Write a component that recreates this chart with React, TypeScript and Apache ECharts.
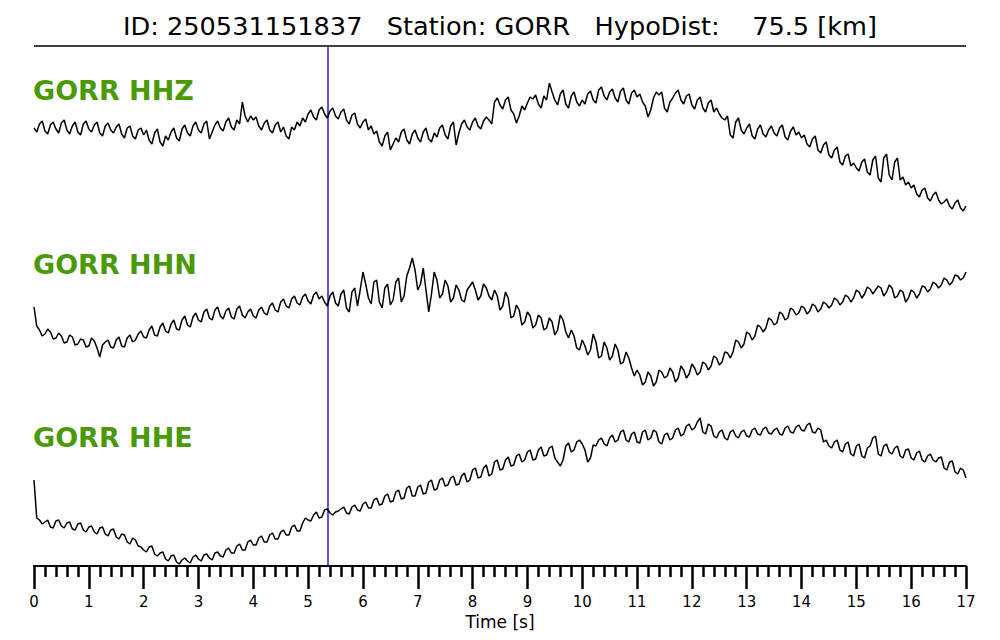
import React, { useEffect, useRef } from "react";
import * as echarts from "echarts";

// Sampling step of the digitised traces (seconds): main samples every 0.1 s,
// mid samples read at the half-step between them.
const SAMPLE_STEP = 0.05;

const TITLE = "ID: 250531151837   Station: GORR   HypoDist:    75.5 [km]";
const TRACE_NAMES = ["GORR HHZ", "GORR HHN", "GORR HHE"];
const PICK_TIME = 5.35;
const X_TICKS = [0, 1, 2, 3, 4, 5, 6, 7, 8, 9, 10, 11, 12, 13, 14, 15, 16, 17];

// Amplitudes (arbitrary counts, relative to each trace's baseline) at t = 0, 0.1, 0.2 ...
const HHZ = [
  2, 6, -1, 5, 1, 7, 0, 4, -2, 6, 1, 5, -3, 4, 0, 3, -4, 2, -6, 0,
  -5, -10, -3, -12, -6, -2, -8, 1, -3, 4, 0, 6, -9, 5, 2, 8, 3, 10, 28, 8,
  10, 4, 7, 0, 5, -2, -6, 3, 8, 12, 16, 13, 20, 16, 19, 14, 18, 10, 15, 6,
  8, 0, -4, -12, -6, -20, -8, -2, -10, -4, -8, -2, -9, -3, 2, -5, 4, -15, 6, 3,
  8, 4, 9, 10, 28, 25, 30, 20, 7, 24, 27, 31, 26, 34, 47, 30, 36, 26, 34, 28,
  30, 36, 30, 40, 34, 38, 32, 39, 30, 37, 33, 28, 13, 32, 35, 22, 28, 37, 30, 34,
  25, 30, 22, 27, 18, 16, 10, -5, 8, 0, 2, -6, 1, -4, 0, -3, 2, -7, -1, -5,
  -8, -14, -9, -20, -15, -25, -20, -32, -26, -36, -38, -32, -42, -30, -48, -28, -45, -32, -50, -55,
  -58, -64, -60, -68, -65, -70, -72, -76, -73, -78, -76,
];
// Amplitudes at t = 0.05, 0.15, 0.25 ...
const HHZ_MID = [
  -2, 9, -4, 8, -3, 10, -4, 8, -5, 9, -2, 8, -6, 7, -3, 6, -8, 4, -9, 2,
  0, -14, 1, -16, -10, 2, -11, 5, -6, 8, -3, 9, -2, 9, -1, 12, 0, 6, 14, 14,
  13, 0, 10, -3, 8, 3, -9, 0, 4, 8, 20, 10, 23, 12, 22, 11, 21, 6, 17, 2,
  11, 4, -1, -16, -2, -14, -12, 1, -14, 0, -12, 2, -12, -7, 5, -9, 8, -3, 10, 0,
  12, 1, 13, 6, 32, 21, 33, 16, 14, 20, 33, 35, 22, 30, 38, 25, 40, 22, 38, 24,
  26, 39, 27, 43, 30, 41, 28, 42, 26, 40, 36, 24, 20, 38, 38, 18, 32, 40, 26, 36,
  21, 33, 18, 30, 22, 12, 14, -8, 12, -4, 6, -9, 5, -7, 4, -6, 5, -10, 3, -2,
  -5, -17, -6, -23, -12, -28, -17, -35, -24, -33, -41, -29, -45, -26, -52, -24, -50, -28, -47, -52,
  -55, -67, -58, -71, -62, -74, -69, -79, -70, -81,
];

const HHN = [
  13, -10, -14, -12, -18, -16, -22, -17, -24, -20, -26, -21, -37, -22, -27, -20, -26, -18, -22, -14,
  -17, -10, -15, -7, -11, -4, -9, 0, -5, 3, 0, 8, 2, 10, 4, 9, 3, 11, 5, 8,
  4, 10, 7, 14, 10, 18, 14, 21, 17, 23, 19, 25, 21, 18, 24, 17, 26, 12, 28, 14,
  48, 22, 38, 18, 32, 15, 38, 18, 44, 62, 30, 52, 8, 48, 22, 40, 18, 35, 20, 30,
  38, 20, 36, 24, 30, 10, 28, 2, 15, -5, 8, -8, 5, -10, 2, -15, 5, -12, -10, -28,
  -20, -35, -14, -38, -22, -40, -24, -44, -32, -48, -50, -65, -52, -66, -50, -58, -48, -62, -46, -58,
  -44, -55, -42, -50, -36, -45, -32, -38, -20, -28, -12, -20, -5, -12, 2, -5, 8, 0, 12, 5,
  14, 6, 16, 8, 18, 12, 22, 15, 25, 18, 30, 22, 33, 26, 34, 24, 35, 22, 30, 18,
  30, 22, 34, 28, 38, 32, 42, 35, 45, 40, 48,
];
const HHN_MID = [
  -6, -16, -9, -19, -13, -23, -15, -25, -19, -27, -18, -28, -25, -20, -28, -17, -27, -15, -20, -11,
  -18, -6, -16, -3, -13, 0, -10, 4, -7, 7, -2, 11, 0, 13, 1, 12, 1, 14, 2, 11,
  2, 13, 5, 17, 8, 21, 12, 24, 15, 26, 16, 28, 24, 14, 28, 14, 30, 8, 32, 30,
  36, 16, 40, 12, 36, 20, 42, 24, 52, 50, 36, 30, 26, 40, 26, 34, 22, 30, 18, 34,
  30, 24, 32, 20, 24, 14, 22, 4, 10, -2, 4, -5, 2, -8, -2, -10, 0, -18, -16, -30,
  -26, -30, -22, -36, -28, -36, -30, -42, -38, -56, -55, -62, -56, -62, -52, -56, -52, -58, -50, -54,
  -48, -52, -44, -46, -38, -42, -33, -32, -22, -24, -14, -16, -7, -8, 0, -3, 6, 2, 10, 7,
  12, 9, 14, 11, 16, 15, 20, 18, 23, 22, 28, 26, 31, 30, 32, 28, 32, 24, 28, 22,
  28, 26, 33, 31, 36, 35, 40, 38, 44, 42,
];

const HHE = [
  10, -30, -32, -37, -31, -36, -33, -39, -34, -40, -37, -42, -38, -44, -40, -47, -44, -52, -48, -56,
  -60, -57, -64, -63, -69, -66, -72, -70, -71, -67, -69, -65, -68, -63, -66, -60, -63, -56, -60, -52,
  -55, -48, -52, -45, -49, -42, -45, -37, -41, -33, -30, -25, -28, -20, -23, -22, -19, -23, -17, -20,
  -14, -18, -10, -15, -6, -12, -2, -9, 2, -6, 3, -4, 8, 0, 10, 4, 12, 5, 14, 8,
  20, 12, 22, 14, 28, 20, 30, 24, 34, 28, 38, 30, 40, 34, 42, 32, 24, 44, 38, 48,
  46, 28, 45, 50, 46, 52, 48, 58, 50, 56, 48, 58, 50, 60, 48, 55, 50, 60, 54, 64,
  60, 68, 58, 66, 54, 58, 52, 58, 54, 58, 54, 60, 56, 61, 57, 60, 56, 62, 58, 63,
  60, 65, 58, 62, 48, 44, 48, 40, 46, 36, 44, 34, 42, 52, 36, 44, 38, 42, 34, 40,
  32, 37, 30, 34, 30, 32, 22, 28, 18, 22, 12,
];
const HHE_MID = [
  -28, -34, -30, -38, -30, -38, -32, -40, -33, -42, -36, -44, -37, -46, -39, -49, -45, -54, -50, -57,
  -62, -56, -66, -62, -71, -65, -74, -68, -73, -65, -71, -64, -70, -62, -67, -58, -63, -54, -60, -50,
  -55, -46, -52, -43, -49, -40, -45, -35, -41, -28, -31, -22, -27, -19, -25, -21, -17, -24, -15, -21,
  -12, -18, -8, -14, -4, -11, 0, -8, 4, -6, 5, -3, 10, 1, 12, 5, 14, 6, 17, 10,
  22, 13, 25, 16, 30, 21, 33, 25, 36, 30, 40, 31, 43, 35, 44, 28, 30, 47, 40, 50,
  40, 32, 44, 52, 44, 55, 50, 60, 48, 58, 47, 60, 52, 58, 46, 57, 52, 62, 56, 66,
  62, 72, 56, 64, 52, 60, 50, 60, 52, 60, 53, 62, 55, 63, 56, 62, 55, 64, 57, 65,
  59, 67, 57, 60, 50, 42, 50, 38, 48, 34, 46, 32, 44, 54, 34, 46, 36, 44, 32, 41,
  30, 39, 28, 36, 28, 33, 20, 29, 16, 20,
];

const TRACES = [
  [HHZ, HHZ_MID],
  [HHN, HHN_MID],
  [HHE, HHE_MID],
];
// Vertical offsets of each trace on the shared stacked axis
const TRACE_OFFSETS = [436, 246, 76];
const Y_RANGE = [0, 519];

const FONT = "DejaVu Sans";

function interleave(main: number[], mid: number[]): number[] {
  const out: number[] = [];
  main.forEach((v, i) => {
    out.push(v);
    if (i < mid.length) out.push(mid[i]);
  });
  return out;
}

export default function App() {
  const ref = useRef<HTMLDivElement>(null);

  useEffect(() => {
    if (!ref.current) return;
    const chart = echarts.init(ref.current, null, { renderer: "svg" });

    const series: any[] = TRACES.map(([main, mid], k) => ({
      type: "line",
      name: TRACE_NAMES[k],
      data: interleave(main, mid).map((v, i) => [Math.round(i * SAMPLE_STEP * 100) / 100, v + TRACE_OFFSETS[k]]),
      showSymbol: false,
      symbol: "none",
      lineStyle: { color: "#000", width: 1.5 },
      itemStyle: { color: "#000" },
      silent: true,
      z: 3,
      markLine:
        k === 0
          ? {
              silent: true,
              symbol: "none",
              label: { show: false },
              lineStyle: { color: "#1f1fcc", width: 1.5, type: "solid" },
              data: [{ xAxis: PICK_TIME }],
              z: 2,
            }
          : undefined,
    }));

    chart.setOption({
      animation: false,
      backgroundColor: "#fff",
      grid: { left: 34, right: 34, top: 47, bottom: 74 },
      xAxis: {
        type: "value",
        min: X_TICKS[0],
        max: X_TICKS[X_TICKS.length - 1],
        interval: 1,
        splitLine: { show: false },
        axisLine: { show: true, lineStyle: { color: "#000", width: 2 } },
        axisTick: { show: true, length: 23, lineStyle: { color: "#000", width: 2.5 } },
        minorTick: { show: true, splitNumber: 5, length: 11, lineStyle: { color: "#000", width: 2.5 } },
        minorSplitLine: { show: false },
        axisLabel: { color: "#000", fontSize: 15, fontFamily: FONT, margin: 28 },
        name: "Time [s]",
        nameLocation: "middle",
        nameGap: 40,
        nameTextStyle: { color: "#000", fontSize: 17, fontFamily: FONT },
      },
      yAxis: {
        type: "value",
        min: Y_RANGE[0],
        max: Y_RANGE[1],
        show: false,
        splitLine: { show: false },
      },
      graphic: [
        {
          type: "text",
          left: "center",
          top: 13,
          style: { text: TITLE, fontSize: 25.6, fontFamily: FONT, fill: "#000" },
        },
        {
          type: "line",
          shape: { x1: 34, y1: 46, x2: 966, y2: 46 },
          style: { stroke: "#000", lineWidth: 1.5 },
        },
        ...TRACE_NAMES.map((n, k) => ({
          type: "text",
          left: 33,
          top: [77, 251, 424][k],
          style: { text: n, fontSize: 27, fontWeight: "bold", fontFamily: FONT, fill: "#4a9a08" },
        })),
      ],
      series,
    });

    return () => chart.dispose();
  }, []);

  return <div ref={ref} style={{ width: 1000, height: 640, margin: -8 }} />;
}
